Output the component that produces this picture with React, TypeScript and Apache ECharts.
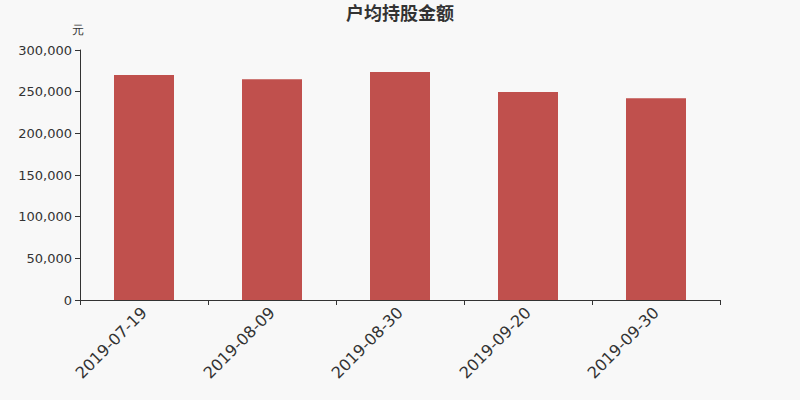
import React, { useEffect, useRef } from 'react'
import * as echarts from 'echarts'

const categories = ['2019-07-19', '2019-08-09', '2019-08-30', '2019-09-20', '2019-09-30']
const amounts = [270000, 265000, 273500, 249500, 242000]

export default function App(): JSX.Element {
  const chartRef = useRef<HTMLDivElement>(null)

  useEffect(() => {
    document.body.style.margin = '0'
    if (!chartRef.current) return
    const chart = echarts.init(chartRef.current, undefined, { renderer: 'svg' })
    chart.setOption({
      animation: false,
      backgroundColor: '#f8f8f8',
      textStyle: { fontFamily: 'DejaVu Sans, sans-serif' },
      title: {
        text: '户均持股金额',
        left: 'center',
        top: -2,
        textStyle: { color: '#333', fontSize: 18, fontWeight: 'bold', fontFamily: 'Noto Sans CJK SC, sans-serif' }
      },
      grid: { left: 80, right: 80, top: 50, bottom: 100 },
      xAxis: {
        type: 'category',
        data: categories,
        axisLine: { lineStyle: { color: '#333' } },
        axisTick: { show: true, alignWithLabel: false, lineStyle: { color: '#333' } },
        axisLabel: { rotate: 45, fontSize: 16, color: '#333', margin: 10 }
      },
      yAxis: {
        type: 'value',
        name: '元',
        nameGap: 14,
        nameTextStyle: { color: '#333', fontSize: 12, padding: [0, 0, 0, -4] },
        min: 0,
        max: 300000,
        interval: 50000,
        axisLine: { show: true, lineStyle: { color: '#333' } },
        axisTick: { show: true, lineStyle: { color: '#333' } },
        splitLine: { show: false },
        axisLabel: {
          color: '#333',
          fontSize: 13,
          formatter: (v: number) => v.toLocaleString('en-US')
        }
      },
      series: [{
        type: 'bar',
        data: amounts,
        barWidth: 60,
        itemStyle: { color: '#c0504d' }
      }]
    })
    return () => chart.dispose()
  }, [])

  return <div ref={chartRef} style={{ width: 800, height: 400 }} />
}
